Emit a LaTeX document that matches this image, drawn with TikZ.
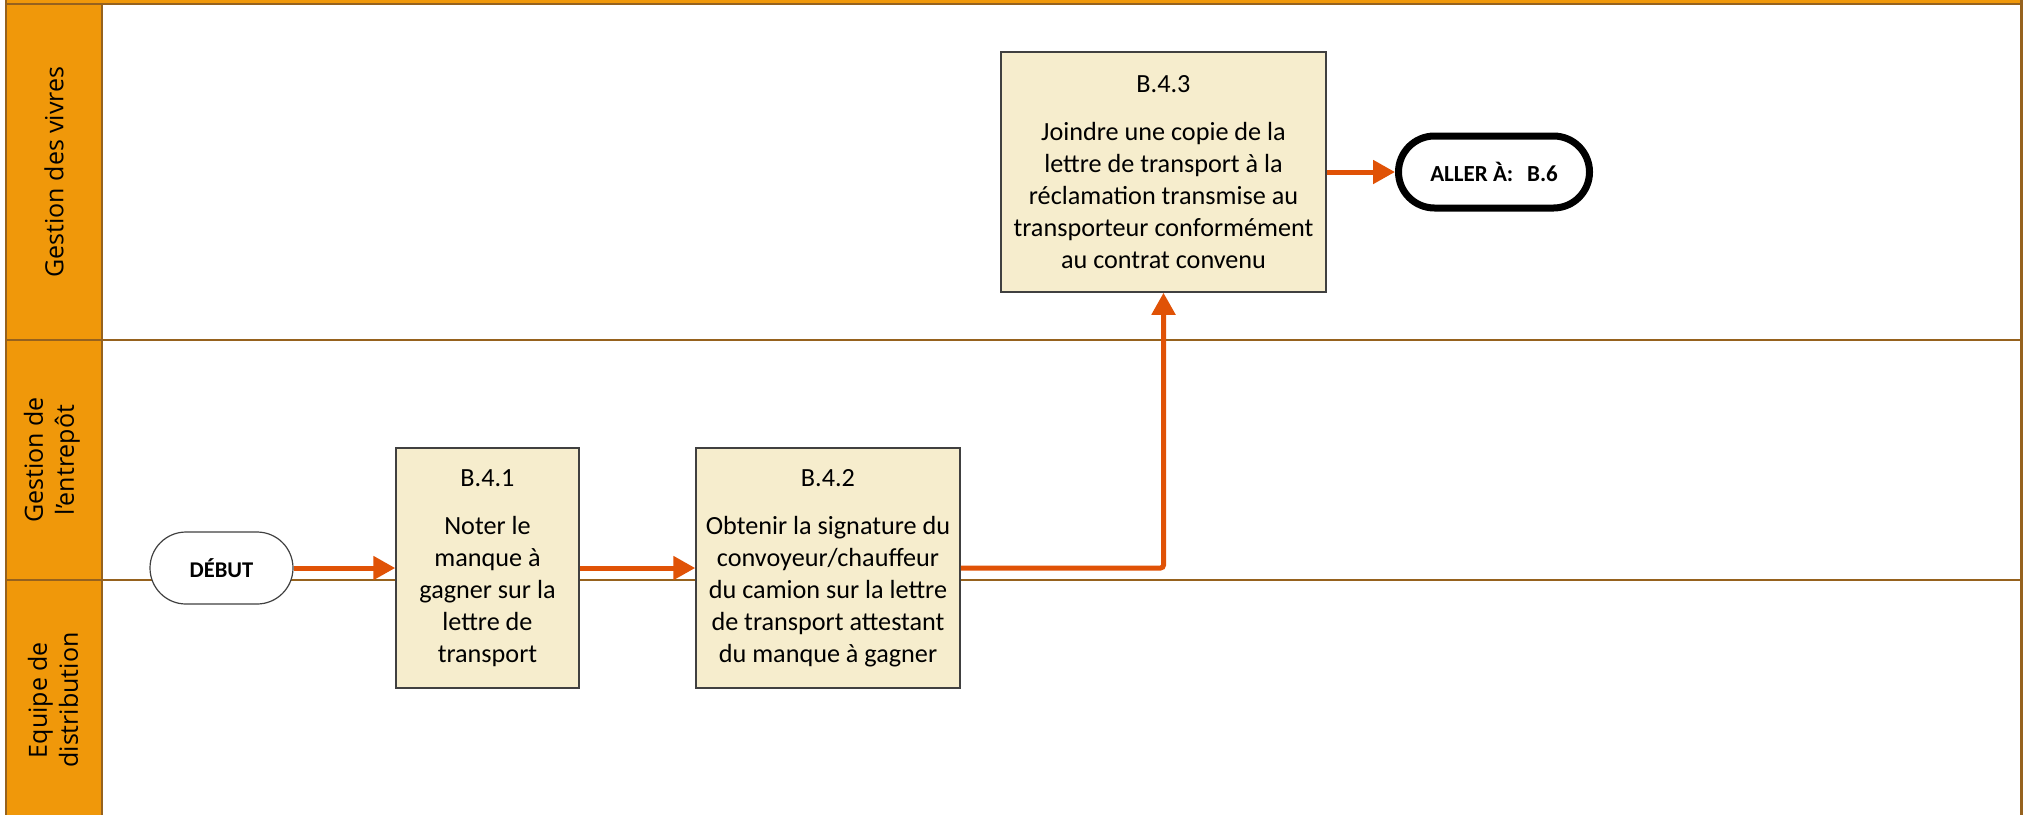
\documentclass[tikz,border=0pt]{standalone}
\usepackage{fontspec}
\setmainfont{Carlito}
\newfontfamily\lanefont{Open Sans}
\usetikzlibrary{arrows.meta,shapes.misc}

\definecolor{laneorange}{RGB}{240,152,10}
\definecolor{lanebrown}{RGB}{150,98,30}
\definecolor{taskfill}{RGB}{246,237,205}
\definecolor{taskborder}{RGB}{64,64,64}
\definecolor{flowarrow}{RGB}{224,82,6}

\begin{document}
\begin{tikzpicture}[x=1pt,y=-1pt,
  task/.style={draw=taskborder, line width=1.5pt, fill=taskfill,
    minimum height=240pt, inner sep=0pt, align=center,
    font=\fontsize{26.2}{32}\selectfont},
  startend/.style={rounded rectangle, draw=taskborder, line width=1.2pt,
    fill=white, minimum width=143pt, minimum height=72pt, inner sep=0pt,
    font=\bfseries\fontsize{22.5}{26}\selectfont},
  gotoend/.style={rounded rectangle, draw=black, line width=7pt,
    fill=white, minimum width=191pt, minimum height=72pt, inner sep=0pt,
    font=\bfseries\fontsize{23}{26}\selectfont},
  flow/.style={draw=flowarrow, line width=5pt,
    -{Triangle[length=22pt,width=23pt]}},
  lanelabel/.style={rotate=90, align=center, inner sep=0pt,
    font=\lanefont\fontsize{25}{31}\selectfont},
  laneline/.style={draw=lanebrown, line width=2pt}
]
\useasboundingbox (0,0) rectangle (2023,815);

% swimlane frame
\fill[laneorange] (6,0) rectangle (2023,3);
\fill[laneorange] (6,4) rectangle (102,815);
\draw[laneline] (6,4) -- (2023,4);
\draw[laneline] (6,0) -- (6,815);
\draw[laneline] (102,4) -- (102,815);
\draw[draw=lanebrown, line width=2.5pt] (2021.5,0) -- (2021.5,815);
\draw[laneline] (6,340) -- (2023,340);
\draw[laneline] (6,580) -- (2023,580);

% lane titles
\node[lanelabel] (lane1) at (54,172) {Gestion des vivres};
\node[lanelabel] (lane2) at (52,460) {Gestion de\\l’entrepôt};
\node[lanelabel] (lane3) at (53,700) {Equipe de\\distribution};

% process steps
\node[startend] (debut) at (221.5,568) {DÉBUT};
\node[task, minimum width=183pt] (b41) at (487.5,568)
  {B.4.1\\[16pt]Noter le\\manque à\\gagner sur la\\lettre de\\transport};
\node[task, minimum width=264pt] (b42) at (828,568)
  {B.4.2\\[16pt]Obtenir la signature du\\convoyeur/chauffeur\\du camion sur la lettre\\de transport attestant\\du manque à gagner};
\node[task, minimum width=325pt] (b43) at (1163.5,172)
  {B.4.3\\[16pt]Joindre une copie de la\\lettre de transport à la\\réclamation transmise au\\transporteur conformément\\au contrat convenu};
\node[gotoend] (goto) at (1494,172) {ALLER À:\hspace{0.6em}B.6};

% flow connectors
\draw[flow] (debut.east) -- (b41.west);
\draw[flow] (b41.east) -- (b42.west);
\draw[flow, rounded corners=3pt] (b42.east) -| (b43.south);
\draw[flow] (b43.east) -- (goto.west);
\end{tikzpicture}
\end{document}
